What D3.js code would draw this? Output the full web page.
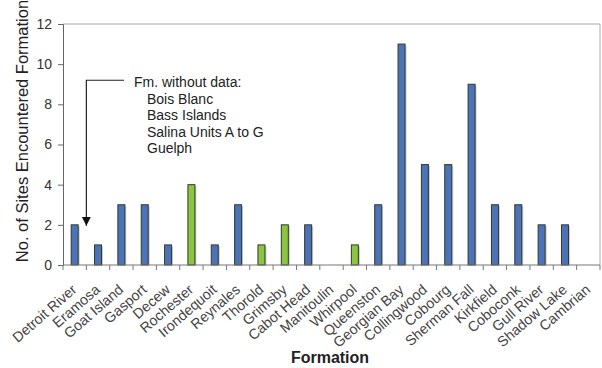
<!DOCTYPE html>
<html>
<head>
<meta charset="utf-8">
<script src="https://cdn.jsdelivr.net/npm/d3@7"></script>
<style>
  body { margin: 0; background: #fff; }
  text { font-family: "Liberation Sans", Arial, sans-serif; }
</style>
</head>
<body>
<div id="chart"></div>
<script>
// formations in order, site counts, and which ones are drawn green
const formations = ["Detroit River", "Eramosa", "Goat Island", "Gasport", "Decew", "Rochester",
  "Irondequoit", "Reynales", "Thorold", "Grimsby", "Cabot Head", "Manitoulin", "Whirpool",
  "Queenston", "Georgian Bay", "Collingwood", "Cobourg", "Sherman Fall", "Kirkfield",
  "Coboconk", "Gull River", "Shadow Lake", "Cambrian"];
const sites = [2, 1, 3, 3, 1, 4, 1, 3, 1, 2, 2, 0, 1, 3, 11, 5, 5, 9, 3, 3, 2, 2, 0];
const greenOnes = ["Rochester", "Thorold", "Grimsby", "Whirpool"];
const yTicks = [0, 2, 4, 6, 8, 10, 12];
const noteLines = ["Bois Blanc", "Bass Islands", "Salina Units A to G", "Guelph"];

const data = formations.map((f, i) => ({ name: f, value: sites[i] }));

const margin = { top: 24, right: 2, bottom: 103, left: 63 };
const width = 602 - margin.left - margin.right;
const height = 368 - margin.top - margin.bottom;

const svg = d3.select("#chart")
  .append("svg")
  .attr("width", 602)
  .attr("height", 368);

const g = svg.append("g")
  .attr("transform", `translate(${margin.left},${margin.top})`);

const xScale = d3.scaleBand()
  .domain(formations)
  .range([0, width]);

const yScale = d3.scaleLinear()
  .domain([0, 12])
  .range([height, 0]);

// frame on top and right
g.append("line").attr("x1", 0).attr("x2", width).attr("y1", 0).attr("y2", 0)
  .attr("stroke", "#aaa");
g.append("line").attr("x1", width).attr("x2", width).attr("y1", 0).attr("y2", height)
  .attr("stroke", "#aaa");

// bars (with a faint shadow like the original)
const barW = 7;
g.selectAll("rect.shadow")
  .data(data.filter(d => d.value > 0))
  .enter()
  .append("rect")
  .attr("x", d => xScale(d.name) + xScale.bandwidth() / 2 - barW / 2 + 1.5)
  .attr("y", d => yScale(d.value) + 1.5)
  .attr("width", barW)
  .attr("height", d => height - yScale(d.value) - 1.5)
  .attr("fill", "#ccc");

g.selectAll("rect.bar")
  .data(data.filter(d => d.value > 0))
  .enter()
  .append("rect")
  .attr("class", "bar")
  .attr("x", d => xScale(d.name) + xScale.bandwidth() / 2 - barW / 2)
  .attr("y", d => yScale(d.value))
  .attr("width", barW)
  .attr("height", d => height - yScale(d.value))
  .attr("fill", d => (greenOnes.includes(d.name) ? "#8cc53f" : "#4c72b7"))
  .attr("stroke", "#2f3b2a")
  .attr("stroke-width", 1);

// y axis
const yAxis = g.append("g")
  .call(d3.axisLeft(yScale).tickValues(yTicks).tickSize(5).tickPadding(6));
yAxis.select(".domain").attr("stroke", "#666");
yAxis.selectAll(".tick line").attr("stroke", "#666");
yAxis.selectAll(".tick text").attr("font-size", 14).attr("fill", "#333");

// x axis: ticks at the band edges
const xAxis = g.append("g").attr("transform", `translate(0,${height})`);
xAxis.append("line").attr("x1", 0).attr("x2", width).attr("stroke", "#777");
xAxis.selectAll("line.tk")
  .data(d3.range(formations.length + 1))
  .enter()
  .append("line")
  .attr("x1", i => i * xScale.bandwidth())
  .attr("x2", i => i * xScale.bandwidth())
  .attr("y1", 0)
  .attr("y2", 5)
  .attr("stroke", "#777");

// labels sit a little flatter than 45 degrees in the original
xAxis.selectAll("text")
  .data(formations)
  .enter()
  .append("text")
  .attr("transform", d => `translate(${xScale(d) + xScale.bandwidth() / 2 + 3},${26}) rotate(-41)`)
  .attr("text-anchor", "end")
  .attr("font-size", 14.3)
  .attr("fill", "#444")
  .text(d => d);

// axis titles
svg.append("text")
  .attr("x", 330)
  .attr("y", 363)
  .attr("text-anchor", "middle")
  .attr("font-size", 16)
  .attr("font-weight", "bold")
  .attr("fill", "#222")
  .text("Formation");

svg.append("text")
  .attr("transform", "translate(28,131) rotate(-90)")
  .attr("text-anchor", "middle")
  .attr("font-size", 16.5)
  .attr("fill", "#222")
  .text("No. of Sites Encountered Formation");

// annotation with arrow
const ax = xScale("Detroit River") + xScale.bandwidth();
svg.append("defs").append("marker")
  .attr("id", "arrow")
  .attr("viewBox", "0 0 10 10")
  .attr("refX", 10).attr("refY", 5)
  .attr("markerWidth", 9).attr("markerHeight", 10)
  .attr("markerUnits", "userSpaceOnUse")
  .attr("orient", "auto")
  .append("path").attr("d", "M0,0L10,5L0,10Z").attr("fill", "#111");

g.append("path")
  .attr("d", `M61,${yScale(9.2)}H${ax}V${yScale(1.95)}`)
  .attr("fill", "none")
  .attr("stroke", "#222")
  .attr("stroke-width", 1.2)
  .attr("marker-end", "url(#arrow)");

const note = g.append("text").attr("font-size", 14).attr("fill", "#222");
note.append("tspan").attr("x", 71).attr("y", 63).text("Fm. without data:");
noteLines.forEach((t, i) => {
  note.append("tspan").attr("x", 84).attr("y", 63 + (i + 1) * 16.5).text(t);
});
</script>
</body>
</html>
